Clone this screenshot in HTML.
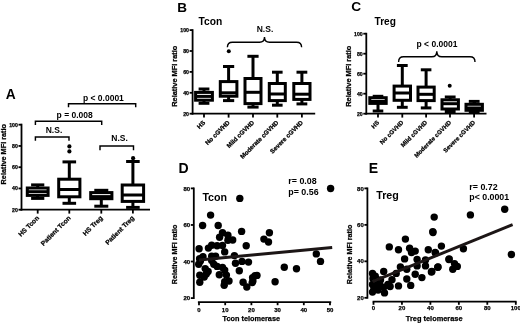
<!DOCTYPE html>
<html><head><meta charset="utf-8"><title>Figure</title>
<style>
html,body{margin:0;padding:0;background:#fff;}
body{width:520px;height:323px;overflow:hidden;font-family:"Liberation Sans",sans-serif;}
svg{display:block;}
svg text{font-family:"Liberation Sans",sans-serif;font-weight:bold;fill:#000;}
</style></head><body>
<svg width="520" height="323" viewBox="0 0 520 323">
<defs><filter id="soft" x="0" y="0" width="520" height="323" filterUnits="userSpaceOnUse"><feGaussianBlur stdDeviation="0.45"/></filter></defs>
<rect width="520" height="323" fill="#fff"/>
<g filter="url(#soft)">
<rect width="520" height="323" fill="#fff"/>
<text x="5.8" y="98.7" font-size="13.8" text-anchor="start" >A</text>
<line x1="21.5" y1="123.69999999999999" x2="21.5" y2="210.6" stroke="#000" stroke-width="1.8" stroke-linecap="butt"/>
<line x1="18.5" y1="124.69999999999999" x2="21.5" y2="124.69999999999999" stroke="#000" stroke-width="1.8" stroke-linecap="butt"/>
<text x="17.9" y="126.57199999999999" font-size="5.2" text-anchor="end"  stroke="#000" stroke-width="0.25">100</text>
<line x1="18.5" y1="145.95" x2="21.5" y2="145.95" stroke="#000" stroke-width="1.8" stroke-linecap="butt"/>
<text x="17.9" y="147.822" font-size="5.2" text-anchor="end"  stroke="#000" stroke-width="0.25">80</text>
<line x1="18.5" y1="167.2" x2="21.5" y2="167.2" stroke="#000" stroke-width="1.8" stroke-linecap="butt"/>
<text x="17.9" y="169.072" font-size="5.2" text-anchor="end"  stroke="#000" stroke-width="0.25">60</text>
<line x1="18.5" y1="188.45" x2="21.5" y2="188.45" stroke="#000" stroke-width="1.8" stroke-linecap="butt"/>
<text x="17.9" y="190.322" font-size="5.2" text-anchor="end"  stroke="#000" stroke-width="0.25">40</text>
<line x1="18.5" y1="209.7" x2="21.5" y2="209.7" stroke="#000" stroke-width="1.8" stroke-linecap="butt"/>
<text x="17.9" y="211.572" font-size="5.2" text-anchor="end"  stroke="#000" stroke-width="0.25">20</text>
<line x1="20.6" y1="209.7" x2="150" y2="209.7" stroke="#000" stroke-width="1.8" stroke-linecap="butt"/>
<text x="6.5" y="154.2" font-size="7.3" text-anchor="middle" transform="rotate(-90 6.5 154.2)"  stroke="#000" stroke-width="0.25">Relative MFI ratio</text>
<rect x="27.300000000000004" y="188" width="20.8" height="7.400000000000006" fill="none" stroke="#000" stroke-width="3.0"/>
<line x1="27.300000000000004" y1="191.7" x2="48.1" y2="191.7" stroke="#000" stroke-width="3.0" stroke-linecap="butt"/>
<line x1="37.7" y1="184.9" x2="37.7" y2="188" stroke="#000" stroke-width="3.0" stroke-linecap="butt"/>
<line x1="37.7" y1="195.4" x2="37.7" y2="198.4" stroke="#000" stroke-width="3.0" stroke-linecap="butt"/>
<line x1="31.1" y1="184.9" x2="44.300000000000004" y2="184.9" stroke="#000" stroke-width="3.0" stroke-linecap="butt"/>
<line x1="31.1" y1="198.4" x2="44.300000000000004" y2="198.4" stroke="#000" stroke-width="3.0" stroke-linecap="butt"/>
<rect x="58.699999999999996" y="179.2" width="21.2" height="17.600000000000023" fill="none" stroke="#000" stroke-width="3.0"/>
<line x1="58.699999999999996" y1="189.5" x2="79.89999999999999" y2="189.5" stroke="#000" stroke-width="3.0" stroke-linecap="butt"/>
<line x1="69.3" y1="161.9" x2="69.3" y2="179.2" stroke="#000" stroke-width="3.0" stroke-linecap="butt"/>
<line x1="69.3" y1="196.8" x2="69.3" y2="203.3" stroke="#000" stroke-width="3.0" stroke-linecap="butt"/>
<line x1="62.5" y1="161.9" x2="76.1" y2="161.9" stroke="#000" stroke-width="3.0" stroke-linecap="butt"/>
<line x1="62.5" y1="203.3" x2="76.1" y2="203.3" stroke="#000" stroke-width="3.0" stroke-linecap="butt"/>
<circle cx="69.4" cy="146.4" r="2.1"/>
<circle cx="69.4" cy="151.4" r="2.1"/>
<rect x="90.7" y="192.6" width="21.2" height="6.099999999999994" fill="none" stroke="#000" stroke-width="3.0"/>
<line x1="90.7" y1="196.6" x2="111.89999999999999" y2="196.6" stroke="#000" stroke-width="3.0" stroke-linecap="butt"/>
<line x1="101.3" y1="190.3" x2="101.3" y2="192.6" stroke="#000" stroke-width="3.0" stroke-linecap="butt"/>
<line x1="101.3" y1="198.7" x2="101.3" y2="206.2" stroke="#000" stroke-width="3.0" stroke-linecap="butt"/>
<line x1="94.3" y1="190.3" x2="108.3" y2="190.3" stroke="#000" stroke-width="3.0" stroke-linecap="butt"/>
<line x1="94.3" y1="206.2" x2="108.3" y2="206.2" stroke="#000" stroke-width="3.0" stroke-linecap="butt"/>
<rect x="122.2" y="185.0" width="21.4" height="16.400000000000006" fill="none" stroke="#000" stroke-width="3.0"/>
<line x1="122.2" y1="195.0" x2="143.6" y2="195.0" stroke="#000" stroke-width="3.0" stroke-linecap="butt"/>
<line x1="132.9" y1="161.5" x2="132.9" y2="185.0" stroke="#000" stroke-width="3.0" stroke-linecap="butt"/>
<line x1="132.9" y1="201.4" x2="132.9" y2="207.4" stroke="#000" stroke-width="3.0" stroke-linecap="butt"/>
<line x1="126.10000000000001" y1="161.5" x2="139.70000000000002" y2="161.5" stroke="#000" stroke-width="3.0" stroke-linecap="butt"/>
<line x1="126.10000000000001" y1="207.4" x2="139.70000000000002" y2="207.4" stroke="#000" stroke-width="3.0" stroke-linecap="butt"/>
<circle cx="133.1" cy="158.2" r="2.1"/>
<line x1="37.7" y1="209.7" x2="37.7" y2="213.6" stroke="#000" stroke-width="1.8" stroke-linecap="butt"/>
<text x="39.5" y="218.5" font-size="6.6" text-anchor="end" transform="rotate(-45 39.5 218.5)"  stroke="#000" stroke-width="0.25">HS Tcon</text>
<line x1="69.3" y1="209.7" x2="69.3" y2="213.6" stroke="#000" stroke-width="1.8" stroke-linecap="butt"/>
<text x="71.1" y="218.5" font-size="6.6" text-anchor="end" transform="rotate(-45 71.1 218.5)"  stroke="#000" stroke-width="0.25">Patient Tcon</text>
<line x1="101.3" y1="209.7" x2="101.3" y2="213.6" stroke="#000" stroke-width="1.8" stroke-linecap="butt"/>
<text x="103.1" y="218.5" font-size="6.6" text-anchor="end" transform="rotate(-45 103.1 218.5)"  stroke="#000" stroke-width="0.25">HS Treg</text>
<line x1="132.9" y1="209.7" x2="132.9" y2="213.6" stroke="#000" stroke-width="1.8" stroke-linecap="butt"/>
<text x="134.70000000000002" y="218.5" font-size="6.6" text-anchor="end" transform="rotate(-45 134.70000000000002 218.5)"  stroke="#000" stroke-width="0.25">Patient Treg</text>
<path d="M35.4 140.7 V137 H69 V140.7" fill="none" stroke="#000" stroke-width="1.45"/>
<text x="54" y="133" font-size="8.5" text-anchor="middle" >N.S.</text>
<path d="M35.4 124.9 V121.2 H101.7 V124.9" fill="none" stroke="#000" stroke-width="1.45"/>
<text x="74.7" y="118.4" font-size="8.5" text-anchor="middle" >p = 0.008</text>
<path d="M68.5 107.2 V103.8 H135.7 V107.2" fill="none" stroke="#000" stroke-width="1.45"/>
<text x="103.4" y="101" font-size="8.5" text-anchor="middle" >p &lt; 0.0001</text>
<path d="M100 150.2 V146 H133.5 V150.2" fill="none" stroke="#000" stroke-width="1.45"/>
<text x="119.6" y="140.7" font-size="8.5" text-anchor="middle" >N.S.</text>
<text x="177.3" y="12.4" font-size="13.5" text-anchor="start" >B</text>
<text x="198.6" y="24.6" font-size="10.25" text-anchor="start" >Tcon</text>
<line x1="192.6" y1="29.200000000000003" x2="192.6" y2="114.60000000000001" stroke="#000" stroke-width="1.8" stroke-linecap="butt"/>
<line x1="189.6" y1="30.10000000000001" x2="192.6" y2="30.10000000000001" stroke="#000" stroke-width="1.8" stroke-linecap="butt"/>
<text x="189.0" y="31.97200000000001" font-size="5.2" text-anchor="end"  stroke="#000" stroke-width="0.25">100</text>
<line x1="189.6" y1="51.0" x2="192.6" y2="51.0" stroke="#000" stroke-width="1.8" stroke-linecap="butt"/>
<text x="189.0" y="52.872" font-size="5.2" text-anchor="end"  stroke="#000" stroke-width="0.25">80</text>
<line x1="189.6" y1="71.9" x2="192.6" y2="71.9" stroke="#000" stroke-width="1.8" stroke-linecap="butt"/>
<text x="189.0" y="73.772" font-size="5.2" text-anchor="end"  stroke="#000" stroke-width="0.25">60</text>
<line x1="189.6" y1="92.80000000000001" x2="192.6" y2="92.80000000000001" stroke="#000" stroke-width="1.8" stroke-linecap="butt"/>
<text x="189.0" y="94.67200000000001" font-size="5.2" text-anchor="end"  stroke="#000" stroke-width="0.25">40</text>
<line x1="189.6" y1="113.7" x2="192.6" y2="113.7" stroke="#000" stroke-width="1.8" stroke-linecap="butt"/>
<text x="189.0" y="115.572" font-size="5.2" text-anchor="end"  stroke="#000" stroke-width="0.25">20</text>
<line x1="191.7" y1="113.7" x2="315.2" y2="113.7" stroke="#000" stroke-width="1.8" stroke-linecap="butt"/>
<text x="176.7" y="76.2" font-size="7.4" text-anchor="middle" transform="rotate(-90 176.7 76.2)"  stroke="#000" stroke-width="0.25">Relative MFI ratio</text>
<rect x="195.6" y="92.4" width="16.8" height="7.799999999999997" fill="none" stroke="#000" stroke-width="3.0"/>
<line x1="195.6" y1="96.4" x2="212.4" y2="96.4" stroke="#000" stroke-width="3.0" stroke-linecap="butt"/>
<line x1="204" y1="89.0" x2="204" y2="92.4" stroke="#000" stroke-width="3.0" stroke-linecap="butt"/>
<line x1="204" y1="100.2" x2="204" y2="103.3" stroke="#000" stroke-width="3.0" stroke-linecap="butt"/>
<line x1="198.6" y1="89.0" x2="209.4" y2="89.0" stroke="#000" stroke-width="3.0" stroke-linecap="butt"/>
<line x1="198.6" y1="103.3" x2="209.4" y2="103.3" stroke="#000" stroke-width="3.0" stroke-linecap="butt"/>
<rect x="220.29999999999998" y="81.6" width="16.6" height="14.600000000000009" fill="none" stroke="#000" stroke-width="3.0"/>
<line x1="220.29999999999998" y1="92.8" x2="236.9" y2="92.8" stroke="#000" stroke-width="3.0" stroke-linecap="butt"/>
<line x1="228.6" y1="66.5" x2="228.6" y2="81.6" stroke="#000" stroke-width="3.0" stroke-linecap="butt"/>
<line x1="228.6" y1="96.2" x2="228.6" y2="100.6" stroke="#000" stroke-width="3.0" stroke-linecap="butt"/>
<line x1="223.0" y1="66.5" x2="234.2" y2="66.5" stroke="#000" stroke-width="3.0" stroke-linecap="butt"/>
<line x1="223.0" y1="100.6" x2="234.2" y2="100.6" stroke="#000" stroke-width="3.0" stroke-linecap="butt"/>
<circle cx="228.8" cy="51.2" r="2.0"/>
<rect x="245.0" y="78.5" width="16.0" height="25.099999999999994" fill="none" stroke="#000" stroke-width="3.0"/>
<line x1="245.0" y1="92.3" x2="261.0" y2="92.3" stroke="#000" stroke-width="3.0" stroke-linecap="butt"/>
<line x1="253" y1="56.3" x2="253" y2="78.5" stroke="#000" stroke-width="3.0" stroke-linecap="butt"/>
<line x1="253" y1="103.6" x2="253" y2="107.1" stroke="#000" stroke-width="3.0" stroke-linecap="butt"/>
<line x1="247.4" y1="56.3" x2="258.6" y2="56.3" stroke="#000" stroke-width="3.0" stroke-linecap="butt"/>
<line x1="247.4" y1="107.1" x2="258.6" y2="107.1" stroke="#000" stroke-width="3.0" stroke-linecap="butt"/>
<rect x="269.3" y="83.5" width="16.0" height="17.099999999999994" fill="none" stroke="#000" stroke-width="3.0"/>
<line x1="269.3" y1="94.0" x2="285.3" y2="94.0" stroke="#000" stroke-width="3.0" stroke-linecap="butt"/>
<line x1="277.3" y1="72.2" x2="277.3" y2="83.5" stroke="#000" stroke-width="3.0" stroke-linecap="butt"/>
<line x1="277.3" y1="100.6" x2="277.3" y2="105.2" stroke="#000" stroke-width="3.0" stroke-linecap="butt"/>
<line x1="272.0" y1="72.2" x2="282.6" y2="72.2" stroke="#000" stroke-width="3.0" stroke-linecap="butt"/>
<line x1="272.0" y1="105.2" x2="282.6" y2="105.2" stroke="#000" stroke-width="3.0" stroke-linecap="butt"/>
<rect x="293.79999999999995" y="83.5" width="16.2" height="15.900000000000006" fill="none" stroke="#000" stroke-width="3.0"/>
<line x1="293.79999999999995" y1="94.2" x2="310.0" y2="94.2" stroke="#000" stroke-width="3.0" stroke-linecap="butt"/>
<line x1="301.9" y1="72.2" x2="301.9" y2="83.5" stroke="#000" stroke-width="3.0" stroke-linecap="butt"/>
<line x1="301.9" y1="99.4" x2="301.9" y2="103.9" stroke="#000" stroke-width="3.0" stroke-linecap="butt"/>
<line x1="296.5" y1="72.2" x2="307.29999999999995" y2="72.2" stroke="#000" stroke-width="3.0" stroke-linecap="butt"/>
<line x1="296.5" y1="103.9" x2="307.29999999999995" y2="103.9" stroke="#000" stroke-width="3.0" stroke-linecap="butt"/>
<line x1="204" y1="113.7" x2="204" y2="117.6" stroke="#000" stroke-width="1.8" stroke-linecap="butt"/>
<text x="205.6" y="123.0" font-size="6.25" text-anchor="end" transform="rotate(-45 205.6 123.0)"  stroke="#000" stroke-width="0.25">HS</text>
<line x1="228.6" y1="113.7" x2="228.6" y2="117.6" stroke="#000" stroke-width="1.8" stroke-linecap="butt"/>
<text x="230.2" y="123.0" font-size="6.25" text-anchor="end" transform="rotate(-45 230.2 123.0)"  stroke="#000" stroke-width="0.25">No cGVHD</text>
<line x1="253" y1="113.7" x2="253" y2="117.6" stroke="#000" stroke-width="1.8" stroke-linecap="butt"/>
<text x="254.6" y="123.0" font-size="6.25" text-anchor="end" transform="rotate(-45 254.6 123.0)"  stroke="#000" stroke-width="0.25">Mild cGVHD</text>
<line x1="277.3" y1="113.7" x2="277.3" y2="117.6" stroke="#000" stroke-width="1.8" stroke-linecap="butt"/>
<text x="278.90000000000003" y="123.0" font-size="6.25" text-anchor="end" transform="rotate(-45 278.90000000000003 123.0)"  stroke="#000" stroke-width="0.25">Moderate cGVHD</text>
<line x1="301.9" y1="113.7" x2="301.9" y2="117.6" stroke="#000" stroke-width="1.8" stroke-linecap="butt"/>
<text x="303.5" y="123.0" font-size="6.25" text-anchor="end" transform="rotate(-45 303.5 123.0)"  stroke="#000" stroke-width="0.25">Severe cGVHD</text>
<path d="M227.4 47.2 Q227.4 42.2 232.4 42.2 H259.5 Q264.5 42.2 264.5 37.0 Q264.5 42.2 269.5 42.2 H296.6 Q301.6 42.2 301.6 47.2" fill="none" stroke="#000" stroke-width="1.4"/>
<text x="265" y="32.3" font-size="8.5" text-anchor="middle" >N.S.</text>
<text x="351.3" y="10.5" font-size="13.7" text-anchor="start" >C</text>
<text x="374.5" y="25.3" font-size="10.15" text-anchor="start" >Treg</text>
<line x1="366.3" y1="32.800000000000004" x2="366.3" y2="114.60000000000001" stroke="#000" stroke-width="1.8" stroke-linecap="butt"/>
<line x1="363.3" y1="33.7" x2="366.3" y2="33.7" stroke="#000" stroke-width="1.8" stroke-linecap="butt"/>
<text x="362.7" y="35.572" font-size="5.2" text-anchor="end"  stroke="#000" stroke-width="0.25">100</text>
<line x1="363.3" y1="53.7" x2="366.3" y2="53.7" stroke="#000" stroke-width="1.8" stroke-linecap="butt"/>
<text x="362.7" y="55.572" font-size="5.2" text-anchor="end"  stroke="#000" stroke-width="0.25">80</text>
<line x1="363.3" y1="73.7" x2="366.3" y2="73.7" stroke="#000" stroke-width="1.8" stroke-linecap="butt"/>
<text x="362.7" y="75.572" font-size="5.2" text-anchor="end"  stroke="#000" stroke-width="0.25">60</text>
<line x1="363.3" y1="93.7" x2="366.3" y2="93.7" stroke="#000" stroke-width="1.8" stroke-linecap="butt"/>
<text x="362.7" y="95.572" font-size="5.2" text-anchor="end"  stroke="#000" stroke-width="0.25">40</text>
<line x1="363.3" y1="113.7" x2="366.3" y2="113.7" stroke="#000" stroke-width="1.8" stroke-linecap="butt"/>
<text x="362.7" y="115.572" font-size="5.2" text-anchor="end"  stroke="#000" stroke-width="0.25">20</text>
<line x1="365.40000000000003" y1="113.7" x2="486.5" y2="113.7" stroke="#000" stroke-width="1.8" stroke-linecap="butt"/>
<text x="350.7" y="76.2" font-size="7.4" text-anchor="middle" transform="rotate(-90 350.7 76.2)"  stroke="#000" stroke-width="0.25">Relative MFI ratio</text>
<rect x="369.8" y="97.7" width="16.4" height="5.700000000000003" fill="none" stroke="#000" stroke-width="3.0"/>
<line x1="369.8" y1="101.4" x2="386.2" y2="101.4" stroke="#000" stroke-width="3.0" stroke-linecap="butt"/>
<line x1="378" y1="96.3" x2="378" y2="97.7" stroke="#000" stroke-width="3.0" stroke-linecap="butt"/>
<line x1="378" y1="103.4" x2="378" y2="111" stroke="#000" stroke-width="3.0" stroke-linecap="butt"/>
<line x1="372.7" y1="96.3" x2="383.3" y2="96.3" stroke="#000" stroke-width="3.0" stroke-linecap="butt"/>
<line x1="372.7" y1="111" x2="383.3" y2="111" stroke="#000" stroke-width="3.0" stroke-linecap="butt"/>
<rect x="394.1" y="86.1" width="16.4" height="14.200000000000003" fill="none" stroke="#000" stroke-width="3.0"/>
<line x1="394.1" y1="93" x2="410.5" y2="93" stroke="#000" stroke-width="3.0" stroke-linecap="butt"/>
<line x1="402.3" y1="65.5" x2="402.3" y2="86.1" stroke="#000" stroke-width="3.0" stroke-linecap="butt"/>
<line x1="402.3" y1="100.3" x2="402.3" y2="107.3" stroke="#000" stroke-width="3.0" stroke-linecap="butt"/>
<line x1="396.90000000000003" y1="65.5" x2="407.7" y2="65.5" stroke="#000" stroke-width="3.0" stroke-linecap="butt"/>
<line x1="396.90000000000003" y1="107.3" x2="407.7" y2="107.3" stroke="#000" stroke-width="3.0" stroke-linecap="butt"/>
<rect x="418.0" y="87.1" width="16.2" height="13.5" fill="none" stroke="#000" stroke-width="3.0"/>
<line x1="418.0" y1="94.3" x2="434.20000000000005" y2="94.3" stroke="#000" stroke-width="3.0" stroke-linecap="butt"/>
<line x1="426.1" y1="69.8" x2="426.1" y2="87.1" stroke="#000" stroke-width="3.0" stroke-linecap="butt"/>
<line x1="426.1" y1="100.6" x2="426.1" y2="107.9" stroke="#000" stroke-width="3.0" stroke-linecap="butt"/>
<line x1="420.8" y1="69.8" x2="431.40000000000003" y2="69.8" stroke="#000" stroke-width="3.0" stroke-linecap="butt"/>
<line x1="420.8" y1="107.9" x2="431.40000000000003" y2="107.9" stroke="#000" stroke-width="3.0" stroke-linecap="butt"/>
<rect x="442.0" y="99.8" width="16.4" height="9.200000000000003" fill="none" stroke="#000" stroke-width="3.0"/>
<line x1="442.0" y1="103.7" x2="458.4" y2="103.7" stroke="#000" stroke-width="3.0" stroke-linecap="butt"/>
<line x1="450.2" y1="97" x2="450.2" y2="99.8" stroke="#000" stroke-width="3.0" stroke-linecap="butt"/>
<line x1="450.2" y1="109" x2="450.2" y2="111.5" stroke="#000" stroke-width="3.0" stroke-linecap="butt"/>
<line x1="444.8" y1="97" x2="455.59999999999997" y2="97" stroke="#000" stroke-width="3.0" stroke-linecap="butt"/>
<line x1="444.8" y1="111.5" x2="455.59999999999997" y2="111.5" stroke="#000" stroke-width="3.0" stroke-linecap="butt"/>
<circle cx="449.7" cy="85.8" r="2.0"/>
<rect x="466.0" y="104.3" width="16.4" height="6.0" fill="none" stroke="#000" stroke-width="3.0"/>
<line x1="466.0" y1="108" x2="482.4" y2="108" stroke="#000" stroke-width="3.0" stroke-linecap="butt"/>
<line x1="474.2" y1="101.4" x2="474.2" y2="104.3" stroke="#000" stroke-width="3.0" stroke-linecap="butt"/>
<line x1="474.2" y1="110.3" x2="474.2" y2="112.3" stroke="#000" stroke-width="3.0" stroke-linecap="butt"/>
<line x1="468.8" y1="101.4" x2="479.59999999999997" y2="101.4" stroke="#000" stroke-width="3.0" stroke-linecap="butt"/>
<line x1="468.8" y1="112.3" x2="479.59999999999997" y2="112.3" stroke="#000" stroke-width="3.0" stroke-linecap="butt"/>
<line x1="378" y1="113.7" x2="378" y2="117.6" stroke="#000" stroke-width="1.8" stroke-linecap="butt"/>
<text x="379.6" y="123.0" font-size="6.05" text-anchor="end" transform="rotate(-45 379.6 123.0)"  stroke="#000" stroke-width="0.25">HS</text>
<line x1="402.3" y1="113.7" x2="402.3" y2="117.6" stroke="#000" stroke-width="1.8" stroke-linecap="butt"/>
<text x="403.90000000000003" y="123.0" font-size="6.05" text-anchor="end" transform="rotate(-45 403.90000000000003 123.0)"  stroke="#000" stroke-width="0.25">No cGVHD</text>
<line x1="426.1" y1="113.7" x2="426.1" y2="117.6" stroke="#000" stroke-width="1.8" stroke-linecap="butt"/>
<text x="427.70000000000005" y="123.0" font-size="6.05" text-anchor="end" transform="rotate(-45 427.70000000000005 123.0)"  stroke="#000" stroke-width="0.25">Mild cGVHD</text>
<line x1="450" y1="113.7" x2="450" y2="117.6" stroke="#000" stroke-width="1.8" stroke-linecap="butt"/>
<text x="451.6" y="123.0" font-size="6.05" text-anchor="end" transform="rotate(-45 451.6 123.0)"  stroke="#000" stroke-width="0.25">Moderate cGVHD</text>
<line x1="474.1" y1="113.7" x2="474.1" y2="117.6" stroke="#000" stroke-width="1.8" stroke-linecap="butt"/>
<text x="475.70000000000005" y="123.0" font-size="6.05" text-anchor="end" transform="rotate(-45 475.70000000000005 123.0)"  stroke="#000" stroke-width="0.25">Severe cGVHD</text>
<path d="M398.6 61.9 Q398.6 56.8 403.6 56.8 H431.8 Q436.8 56.8 436.8 51.2 Q436.8 56.8 441.8 56.8 H470 Q475 56.8 475 61.9" fill="none" stroke="#000" stroke-width="1.4"/>
<text x="437" y="46.6" font-size="8.5" text-anchor="middle" >p &lt; 0.0001</text>
<text x="178.4" y="172.9" font-size="14" text-anchor="start" >D</text>
<text x="202.4" y="200.6" font-size="10.7" text-anchor="start" >Tcon</text>
<line x1="193.8" y1="187.5" x2="193.8" y2="299.0" stroke="#000" stroke-width="1.8" stroke-linecap="butt"/>
<line x1="190.8" y1="188.39000000000004" x2="193.8" y2="188.39000000000004" stroke="#000" stroke-width="1.8" stroke-linecap="butt"/>
<text x="190.20000000000002" y="190.55000000000004" font-size="6.0" text-anchor="end"  stroke="#000" stroke-width="0.25">80</text>
<line x1="190.8" y1="224.96000000000004" x2="193.8" y2="224.96000000000004" stroke="#000" stroke-width="1.8" stroke-linecap="butt"/>
<text x="190.20000000000002" y="227.12000000000003" font-size="6.0" text-anchor="end"  stroke="#000" stroke-width="0.25">60</text>
<line x1="190.8" y1="261.53000000000003" x2="193.8" y2="261.53000000000003" stroke="#000" stroke-width="1.8" stroke-linecap="butt"/>
<text x="190.20000000000002" y="263.69000000000005" font-size="6.0" text-anchor="end"  stroke="#000" stroke-width="0.25">40</text>
<line x1="190.8" y1="298.1" x2="193.8" y2="298.1" stroke="#000" stroke-width="1.8" stroke-linecap="butt"/>
<text x="190.20000000000002" y="300.26000000000005" font-size="6.0" text-anchor="end"  stroke="#000" stroke-width="0.25">20</text>
<text x="176.6" y="254.4" font-size="7.2" text-anchor="middle" transform="rotate(-90 176.6 254.4)"  stroke="#000" stroke-width="0.25">Relative MFI ratio</text>
<line x1="197.9" y1="302.1" x2="331.2" y2="302.1" stroke="#000" stroke-width="1.8" stroke-linecap="butt"/>
<line x1="199" y1="302.1" x2="199" y2="305.2" stroke="#000" stroke-width="1.8" stroke-linecap="butt"/>
<text x="199" y="311.6" font-size="6.0" text-anchor="middle"  stroke="#000" stroke-width="0.25">0</text>
<line x1="225.2" y1="302.1" x2="225.2" y2="305.2" stroke="#000" stroke-width="1.8" stroke-linecap="butt"/>
<text x="225.2" y="311.6" font-size="6.0" text-anchor="middle"  stroke="#000" stroke-width="0.25">10</text>
<line x1="251.4" y1="302.1" x2="251.4" y2="305.2" stroke="#000" stroke-width="1.8" stroke-linecap="butt"/>
<text x="251.4" y="311.6" font-size="6.0" text-anchor="middle"  stroke="#000" stroke-width="0.25">20</text>
<line x1="277.6" y1="302.1" x2="277.6" y2="305.2" stroke="#000" stroke-width="1.8" stroke-linecap="butt"/>
<text x="277.6" y="311.6" font-size="6.0" text-anchor="middle"  stroke="#000" stroke-width="0.25">30</text>
<line x1="303.8" y1="302.1" x2="303.8" y2="305.2" stroke="#000" stroke-width="1.8" stroke-linecap="butt"/>
<text x="303.8" y="311.6" font-size="6.0" text-anchor="middle"  stroke="#000" stroke-width="0.25">40</text>
<line x1="330" y1="302.1" x2="330" y2="305.2" stroke="#000" stroke-width="1.8" stroke-linecap="butt"/>
<text x="330" y="311.6" font-size="6.0" text-anchor="middle"  stroke="#000" stroke-width="0.25">50</text>
<text x="251.3" y="321.3" font-size="7.3" text-anchor="middle"  stroke="#000" stroke-width="0.25">Tcon telomerase</text>
<text x="288.3" y="184" font-size="8.9" text-anchor="start" >r= 0.08</text>
<text x="288.3" y="194.6" font-size="8.9" text-anchor="start" >p= 0.56</text>
<circle cx="239.8" cy="198.4" r="3.7"/>
<circle cx="210.6" cy="215.1" r="3.7"/>
<circle cx="202.6" cy="225.5" r="3.7"/>
<circle cx="218.2" cy="225.5" r="3.7"/>
<circle cx="241.6" cy="231.4" r="3.7"/>
<circle cx="222.5" cy="232.7" r="3.7"/>
<circle cx="227.9" cy="235.3" r="3.7"/>
<circle cx="219.6" cy="237.3" r="3.7"/>
<circle cx="227.9" cy="240.2" r="3.7"/>
<circle cx="232.7" cy="240" r="3.7"/>
<circle cx="246.2" cy="245.7" r="3.7"/>
<circle cx="211.7" cy="245.2" r="3.7"/>
<circle cx="217.1" cy="245.7" r="3.7"/>
<circle cx="222.5" cy="245.5" r="3.7"/>
<circle cx="199.1" cy="248.7" r="3.7"/>
<circle cx="208.4" cy="248.1" r="3.7"/>
<circle cx="224.7" cy="251.9" r="3.7"/>
<circle cx="203" cy="256.7" r="3.7"/>
<circle cx="211.7" cy="256.2" r="3.7"/>
<circle cx="215.6" cy="256.2" r="3.7"/>
<circle cx="234.4" cy="255.6" r="3.7"/>
<circle cx="200.4" cy="261" r="3.7"/>
<circle cx="198.7" cy="264.3" r="3.7"/>
<circle cx="211.7" cy="260.6" r="3.7"/>
<circle cx="213.8" cy="264.3" r="3.7"/>
<circle cx="217.1" cy="266.4" r="3.7"/>
<circle cx="222.5" cy="267.5" r="3.7"/>
<circle cx="224.7" cy="270.1" r="3.7"/>
<circle cx="205.2" cy="268.6" r="3.7"/>
<circle cx="206.3" cy="274" r="3.7"/>
<circle cx="199.8" cy="275.3" r="3.7"/>
<circle cx="204.2" cy="277.1" r="3.7"/>
<circle cx="199.8" cy="282.3" r="3.7"/>
<circle cx="219.3" cy="274.7" r="3.7"/>
<circle cx="226.4" cy="275.1" r="3.7"/>
<circle cx="224.7" cy="281.6" r="3.7"/>
<circle cx="229" cy="281" r="3.7"/>
<circle cx="224.2" cy="285.3" r="3.7"/>
<circle cx="235.5" cy="263.2" r="3.7"/>
<circle cx="242" cy="261.4" r="3.7"/>
<circle cx="248.5" cy="262.1" r="3.7"/>
<circle cx="239.3" cy="270.7" r="3.7"/>
<circle cx="243.1" cy="282.2" r="3.7"/>
<circle cx="246.8" cy="287" r="3.7"/>
<circle cx="255" cy="275.7" r="3.7"/>
<circle cx="252.9" cy="281" r="3.7"/>
<circle cx="208.1" cy="271.4" r="3.7"/>
<circle cx="199.6" cy="258.8" r="3.7"/>
<circle cx="263.9" cy="239.1" r="3.7"/>
<circle cx="268.5" cy="242" r="3.7"/>
<circle cx="269.4" cy="232.7" r="3.7"/>
<circle cx="316.3" cy="253.9" r="3.7"/>
<circle cx="320.5" cy="261.4" r="3.7"/>
<circle cx="284.3" cy="267.3" r="3.7"/>
<circle cx="296.5" cy="268.7" r="3.7"/>
<circle cx="275.1" cy="281.8" r="3.7"/>
<circle cx="257" cy="275.4" r="3.7"/>
<circle cx="252.6" cy="277.6" r="3.7"/>
<circle cx="252.2" cy="282.6" r="3.7"/>
<circle cx="330.6" cy="188.5" r="3.7"/>
<line x1="199" y1="260" x2="332.2" y2="247.5" stroke="#1d1515" stroke-width="2.8" stroke-linecap="butt"/>
<text x="368.7" y="172.9" font-size="14" text-anchor="start" >E</text>
<text x="376.2" y="199.2" font-size="10.7" text-anchor="start" >Treg</text>
<line x1="367.4" y1="187.5" x2="367.4" y2="298.7" stroke="#000" stroke-width="1.8" stroke-linecap="butt"/>
<line x1="364.4" y1="188.39000000000001" x2="367.4" y2="188.39000000000001" stroke="#000" stroke-width="1.8" stroke-linecap="butt"/>
<text x="363.79999999999995" y="190.55" font-size="6.0" text-anchor="end"  stroke="#000" stroke-width="0.25">80</text>
<line x1="364.4" y1="224.86" x2="367.4" y2="224.86" stroke="#000" stroke-width="1.8" stroke-linecap="butt"/>
<text x="363.79999999999995" y="227.02" font-size="6.0" text-anchor="end"  stroke="#000" stroke-width="0.25">60</text>
<line x1="364.4" y1="261.33000000000004" x2="367.4" y2="261.33000000000004" stroke="#000" stroke-width="1.8" stroke-linecap="butt"/>
<text x="363.79999999999995" y="263.49000000000007" font-size="6.0" text-anchor="end"  stroke="#000" stroke-width="0.25">40</text>
<line x1="364.4" y1="297.8" x2="367.4" y2="297.8" stroke="#000" stroke-width="1.8" stroke-linecap="butt"/>
<text x="363.79999999999995" y="299.96000000000004" font-size="6.0" text-anchor="end"  stroke="#000" stroke-width="0.25">20</text>
<text x="352.2" y="254.4" font-size="7.2" text-anchor="middle" transform="rotate(-90 352.2 254.4)"  stroke="#000" stroke-width="0.25">Relative MFI ratio</text>
<line x1="372.6" y1="301.7" x2="516.6" y2="301.7" stroke="#000" stroke-width="1.8" stroke-linecap="butt"/>
<line x1="373.5" y1="301.7" x2="373.5" y2="304.8" stroke="#000" stroke-width="1.8" stroke-linecap="butt"/>
<text x="373.5" y="310.3" font-size="6.0" text-anchor="middle"  stroke="#000" stroke-width="0.25">0</text>
<line x1="401.95" y1="301.7" x2="401.95" y2="304.8" stroke="#000" stroke-width="1.8" stroke-linecap="butt"/>
<text x="401.95" y="310.3" font-size="6.0" text-anchor="middle"  stroke="#000" stroke-width="0.25">20</text>
<line x1="430.4" y1="301.7" x2="430.4" y2="304.8" stroke="#000" stroke-width="1.8" stroke-linecap="butt"/>
<text x="430.4" y="310.3" font-size="6.0" text-anchor="middle"  stroke="#000" stroke-width="0.25">40</text>
<line x1="458.85" y1="301.7" x2="458.85" y2="304.8" stroke="#000" stroke-width="1.8" stroke-linecap="butt"/>
<text x="458.85" y="310.3" font-size="6.0" text-anchor="middle"  stroke="#000" stroke-width="0.25">60</text>
<line x1="487.3" y1="301.7" x2="487.3" y2="304.8" stroke="#000" stroke-width="1.8" stroke-linecap="butt"/>
<text x="487.3" y="310.3" font-size="6.0" text-anchor="middle"  stroke="#000" stroke-width="0.25">80</text>
<line x1="515.8" y1="301.7" x2="515.8" y2="304.8" stroke="#000" stroke-width="1.8" stroke-linecap="butt"/>
<text x="515.8" y="310.3" font-size="6.0" text-anchor="middle"  stroke="#000" stroke-width="0.25">100</text>
<text x="434.2" y="321.0" font-size="7.4" text-anchor="middle"  stroke="#000" stroke-width="0.25">Treg telomerase</text>
<text x="469.3" y="190.2" font-size="8.9" text-anchor="start" >r= 0.72</text>
<text x="469.3" y="200.2" font-size="8.8" text-anchor="start" >p&lt; 0.0001</text>
<circle cx="405.4" cy="239.1" r="3.7"/>
<circle cx="389.3" cy="246.9" r="3.7"/>
<circle cx="398.5" cy="249.7" r="3.7"/>
<circle cx="409.6" cy="248.3" r="3.7"/>
<circle cx="411.5" cy="252.5" r="3.7"/>
<circle cx="415.2" cy="251.1" r="3.7"/>
<circle cx="428.3" cy="249.7" r="3.7"/>
<circle cx="435.2" cy="252.5" r="3.7"/>
<circle cx="441.4" cy="246.1" r="3.7"/>
<circle cx="433" cy="232.5" r="3.7"/>
<circle cx="404.6" cy="258.9" r="3.7"/>
<circle cx="417.1" cy="259.5" r="3.7"/>
<circle cx="425.5" cy="260" r="3.7"/>
<circle cx="449.2" cy="258.9" r="3.7"/>
<circle cx="417.1" cy="265.9" r="3.7"/>
<circle cx="425.5" cy="265.9" r="3.7"/>
<circle cx="438" cy="267" r="3.7"/>
<circle cx="400.4" cy="267" r="3.7"/>
<circle cx="406.8" cy="269.2" r="3.7"/>
<circle cx="431.9" cy="271.5" r="3.7"/>
<circle cx="383.7" cy="271.5" r="3.7"/>
<circle cx="372.5" cy="273.4" r="3.7"/>
<circle cx="375.3" cy="276.2" r="3.7"/>
<circle cx="396.2" cy="273.4" r="3.7"/>
<circle cx="415.2" cy="274.2" r="3.7"/>
<circle cx="421.9" cy="277.6" r="3.7"/>
<circle cx="406.8" cy="279" r="3.7"/>
<circle cx="392" cy="279.8" r="3.7"/>
<circle cx="410.7" cy="285.4" r="3.7"/>
<circle cx="398.5" cy="285.9" r="3.7"/>
<circle cx="390.1" cy="286.5" r="3.7"/>
<circle cx="376.7" cy="280.4" r="3.7"/>
<circle cx="372.5" cy="284.5" r="3.7"/>
<circle cx="379.5" cy="284.5" r="3.7"/>
<circle cx="373.9" cy="288.7" r="3.7"/>
<circle cx="378.1" cy="290.1" r="3.7"/>
<circle cx="372.5" cy="292.1" r="3.7"/>
<circle cx="384.5" cy="292.9" r="3.7"/>
<circle cx="383.7" cy="287.3" r="3.7"/>
<circle cx="387.9" cy="284.5" r="3.7"/>
<circle cx="504.7" cy="209.3" r="3.7"/>
<circle cx="470.4" cy="214.9" r="3.7"/>
<circle cx="434.2" cy="217.1" r="3.7"/>
<circle cx="432.8" cy="231.6" r="3.7"/>
<circle cx="463.4" cy="248.8" r="3.7"/>
<circle cx="511.4" cy="254.5" r="3.7"/>
<circle cx="373" cy="278.5" r="3.7"/>
<circle cx="377.5" cy="286.5" r="3.7"/>
<circle cx="375.5" cy="282.5" r="3.7"/>
<circle cx="380.5" cy="280" r="3.7"/>
<circle cx="435.6" cy="253.1" r="3.7"/>
<circle cx="448.9" cy="259.5" r="3.7"/>
<circle cx="454.5" cy="263.6" r="3.7"/>
<circle cx="457.3" cy="266.4" r="3.7"/>
<circle cx="452.8" cy="269.2" r="3.7"/>
<circle cx="437.8" cy="267.3" r="3.7"/>
<circle cx="431.4" cy="272" r="3.7"/>
<line x1="372.5" y1="281.6" x2="512.6" y2="224.6" stroke="#1d1515" stroke-width="2.9" stroke-linecap="butt"/>
</g>
</svg>
</body></html>
